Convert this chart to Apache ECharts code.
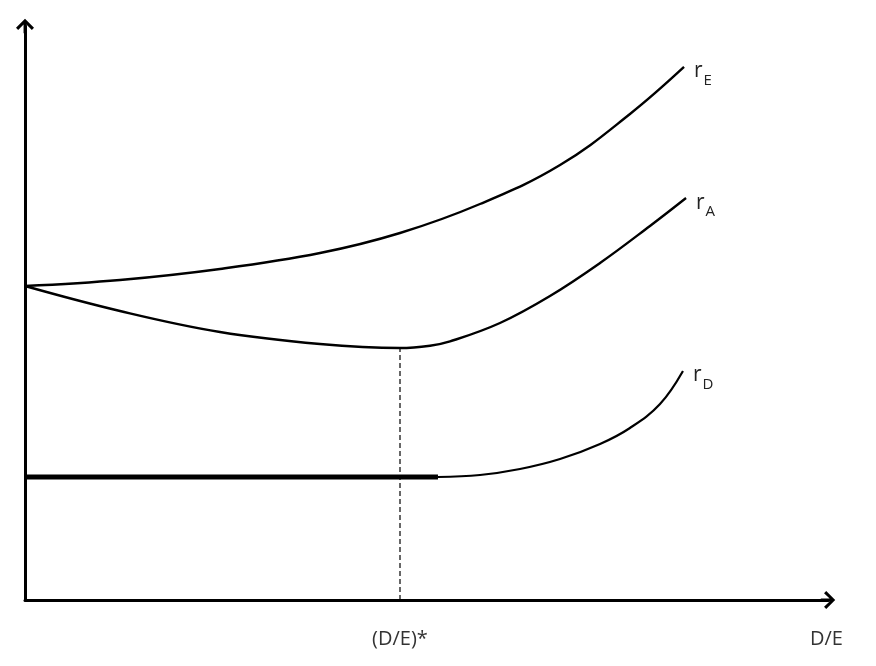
<!DOCTYPE html>
<html>
<head>
<meta charset="utf-8">
<script src="https://cdn.jsdelivr.net/npm/echarts@6/dist/echarts.min.js"></script>
<style>html,body{margin:0;padding:0;background:#fff;}#c{width:876px;height:666px;}</style>
</head>
<body>
<div id="c"></div>
<script>
// Values (abstract units: x 0..100, y 0..100)
var rE_x = [0, 11.83, 24.28, 36.74, 46.70, 56.66, 66.63, 75.34, 82.07];
var rE_y = [54.70, 55.75, 57.67, 60.45, 63.94, 68.99, 75.78, 84.67, 92.86];

var rA_x = [0, 11.83, 24.28, 36.74, 46.70, 50.44, 52.93, 59.15, 65.38, 71.61, 77.83, 82.32];
var rA_y = [54.70, 50.35, 46.69, 44.60, 43.90, 44.30, 45.05, 48.26, 52.96, 58.71, 65.16, 70.03];

var rDflat_x = [0, 51.43];
var rDflat_y = [21.43, 21.43];
var rD_x = [51.43, 56.66, 61.64, 66.63, 71.61, 75.34, 79.08, 81.94];
var rD_y = [21.43, 21.78, 22.82, 24.56, 27.18, 29.97, 34.15, 39.90];

var optimum_x = 46.70;      // (D/E)*
var optimum_y = 43.90;      // minimum of rA
var axisEnd_x = 99.8;

var xTickLabels = ['(D/E)*', 'D/E'];
var curveNames = ['E', 'A', 'D'];

function pairs(xs, ys) { return xs.map(function (x, i) { return [x, ys[i]]; }); }
function endLabel(sub) {
  return {
    show: true, distance: 10, offset: [0, 3],
    formatter: '{r|r}{s|' + sub + '}',
    rich: {
      r: { fontSize: 21, color: '#222', fontFamily: 'Open Sans', verticalAlign: 'bottom', lineHeight: 24 },
      s: { fontSize: 15, color: '#222', fontFamily: 'Open Sans', verticalAlign: 'bottom', lineHeight: 24, padding: [0, 0, -6, 1] }
    }
  };
}

var arrowPath = 'path://M10 0 L20 10 L17.6 12.4 L11.6 6.2 L11.6 16 L8.4 16 L8.4 6.2 L2.4 12.4 L0 10 Z';

var lineBase = { type: 'line', symbol: 'none', silent: true, animation: false };

var option = {
  animation: false,
  grid: { left: 25, right: 48, top: 26, bottom: 66 },
  xAxis: {
    type: 'value', min: 0, max: 100,
    splitLine: { show: false },
    axisTick: { show: false },
    axisLine: { lineStyle: { color: '#000', width: 3 }, symbol: ['none', arrowPath], symbolSize: [18, 16] },
    axisLabel: {
      customValues: [optimum_x, axisEnd_x],
      margin: 29, fontSize: 20, color: '#333', fontFamily: 'Open Sans',
      formatter: function (v) { return Math.abs(v - optimum_x) < 0.01 ? xTickLabels[0] : xTickLabels[1]; }
    }
  },
  yAxis: {
    type: 'value', min: 0, max: 100,
    splitLine: { show: false },
    axisTick: { show: false },
    axisLabel: { show: false },
    axisLine: { lineStyle: { color: '#000', width: 3 }, symbol: ['none', arrowPath], symbolSize: [18, 16] }
  },
  series: [
    Object.assign({}, lineBase, {
      name: 'dashed', data: [[optimum_x, 0], [optimum_x, optimum_y]],
      lineStyle: { color: '#000', width: 1.2, type: [5, 3] }
    }),
    Object.assign({}, lineBase, {
      name: 'rE', smooth: 0.4, data: pairs(rE_x, rE_y), endLabel: endLabel(curveNames[0]),
      lineStyle: { color: '#000', width: 2.4 }
    }),
    Object.assign({}, lineBase, {
      name: 'rA', smooth: 0.4, data: pairs(rA_x, rA_y), endLabel: endLabel(curveNames[1]),
      lineStyle: { color: '#000', width: 2.4 }
    }),
    Object.assign({}, lineBase, {
      name: 'rDflat', data: pairs(rDflat_x, rDflat_y),
      lineStyle: { color: '#000', width: 5 }
    }),
    Object.assign({}, lineBase, {
      name: 'rD', smooth: 0.4, data: pairs(rD_x, rD_y), endLabel: endLabel(curveNames[2]),
      lineStyle: { color: '#000', width: 2.2 }
    })
  ]
};

var chart = echarts.init(document.getElementById('c'), null, { renderer: 'canvas' });
chart.setOption(option);
</script>
</body>
</html>
